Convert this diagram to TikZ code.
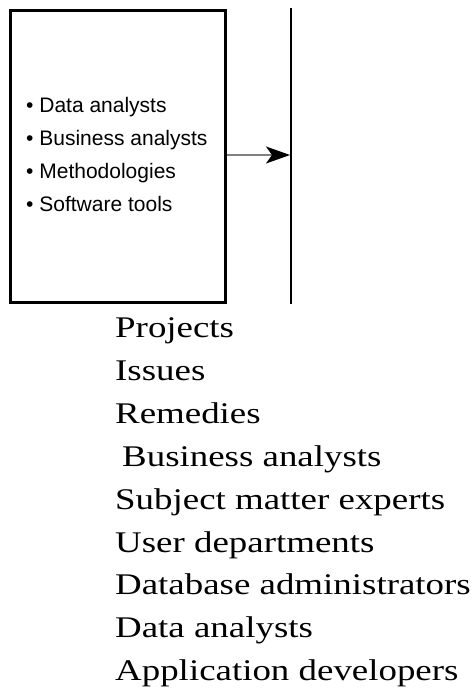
\documentclass[tikz,border=0pt]{standalone}
\usepackage{fontspec}
\usetikzlibrary{arrows.meta}
\newfontfamily\boxsans{Liberation Sans}
\newfontfamily\listserif[FakeStretch=1.23]{Liberation Serif}
\tikzset{
  panel/.style={draw=black, line width=3pt, minimum width=214.5pt, minimum height=292pt, inner sep=0pt, fill=none},
  bul/.style={anchor=base west, inner sep=0pt, font=\boxsans\fontsize{21pt}{25pt}\selectfont},
  item/.style={anchor=base west, inner sep=0pt, font=\listserif\fontsize{30pt}{36pt}\selectfont},
  feed/.style={draw=black!50, line width=1.3pt, -{Stealth[length=24pt,width=17pt,inset=6pt,black]}},
  bar/.style={draw=black, line width=2pt}
}
\begin{document}
\begin{tikzpicture}[x=1pt,y=-1pt]
\useasboundingbox (0,0) rectangle (475,688);
\node[panel] (box) at (117.75,156.5) {};
\node[bul] (b1) at (26,112) {\textbullet\ Data analysts};
\node[bul] (b2) at (26,145) {\textbullet\ Business analysts};
\node[bul] (b3) at (26,178) {\textbullet\ Methodologies};
\node[bul] (b4) at (26,211) {\textbullet\ Software tools};
\coordinate (top) at (291,8);
\coordinate (bot) at (291,304);
\coordinate (tip) at (290,155);
\draw[bar] (top) -- (bot);
\draw[feed] (box.east |- tip) -- (tip);
\node[item] (t1) at (115,337.5) {Projects};
\node[item] (t2) at (115,380.4) {Issues};
\node[item] (t3) at (115,423.3) {Remedies};
\node[item] (t4) at (122,466.2) {Business analysts};
\node[item] (t5) at (115,509.1) {Subject matter experts};
\node[item] (t6) at (115,552.0) {User departments};
\node[item] (t7) at (115,594.9) {Database administrators};
\node[item] (t8) at (115,637.8) {Data analysts};
\node[item] (t9) at (115,680.7) {Application developers};
\end{tikzpicture}
\end{document}
